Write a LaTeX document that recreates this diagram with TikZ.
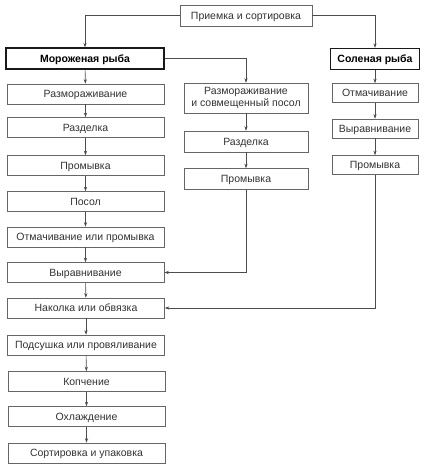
\documentclass[tikz,border=0pt]{standalone}
\usepackage{fontspec}
\setmainfont{Liberation Sans}
\usetikzlibrary{arrows.meta}
\begin{document}
\begin{tikzpicture}[x=1pt,y=-1pt,
  box/.style={draw=black!60, line width=0.6pt, fill=white, inner sep=0pt, text=black!80,
    font=\fontsize{10.5}{12.5}\selectfont, align=center, text height=7.5pt, text depth=0pt},
  lbox/.style={box, minimum width=157pt, minimum height=20pt},
  mbox/.style={box, minimum width=124pt, minimum height=21pt},
  rbox/.style={box, minimum width=86pt, minimum height=19pt},
  headbox/.style={box, draw=black!90, line width=1.3pt, text=black, font=\fontsize{10.5}{12.5}\selectfont\bfseries, minimum height=21pt},
  conn/.style={draw=black!70, line width=0.6pt, -{Stealth[length=4.5pt,width=3.2pt]}}]
\useasboundingbox (0,0) rectangle (427,466);
\fill[white] (0,0) rectangle (427,466);
% top
\node[box, minimum width=132pt, minimum height=21pt] (top) at (246,15.5) {Приемка и сортировка};
\node[headbox, minimum width=158pt] (frozen) at (85,58.5) {Мороженая рыба};
\node[headbox, minimum width=89pt] (salted) at (375,59) {Соленая рыба};
% left column
\node[lbox] (l1) at (85.5,94) {Размораживание};
\node[lbox] (l2) at (85.5,127.5) {Разделка};
\node[lbox] (l3) at (85.5,165.5) {Промывка};
\node[lbox] (l4) at (85.5,201.5) {Посол};
\node[lbox] (l5) at (85.5,237) {Отмачивание или промывка};
\node[lbox] (l6) at (85.5,272.5) {Выравнивание};
\node[lbox] (l7) at (86,308) {Наколка или обвязка};
\node[lbox] (l8) at (86,345) {Подсушка или провяливание};
\node[lbox] (l9) at (86.5,381.5) {Копчение};
\node[lbox] (l10) at (86.5,416.5) {Охлаждение};
\node[lbox] (l11) at (86.5,453) {Сортировка и упаковка};
% middle column
\node[mbox, minimum height=30pt, text height=, text depth=] (m1) at (246,98) {Размораживание\\и совмещенный посол};
\node[mbox] (m2) at (246,141.5) {Разделка};
\node[mbox] (m3) at (246,179) {Промывка};
% right column
\node[rbox] (r1) at (375,93) {Отмачивание};
\node[rbox] (r2) at (375,128.5) {Выравнивание};
\node[rbox] (r3) at (375,165) {Промывка};
% connectors
\draw[conn] (top.west) -| (frozen.north);
\draw[conn] (top.east) -| (salted.north);
\draw[conn] (frozen.east) -| (m1.north);
\draw[conn] (frozen) -- (l1);
\draw[conn] (l1) -- (l2);
\draw[conn] (l2) -- (l3);
\draw[conn] (l3) -- (l4);
\draw[conn] (l4) -- (l5);
\draw[conn] (l5) -- (l6);
\draw[conn] (l6) -- (l7);
\draw[conn] (l7) -- (l8);
\draw[conn] (l8) -- (l9);
\draw[conn] (l9) -- (l10);
\draw[conn] (l10) -- (l11);
\draw[conn] (m1) -- (m2);
\draw[conn] (m2) -- (m3);
\draw[conn] (salted) -- (r1);
\draw[conn] (r1) -- (r2);
\draw[conn] (r2) -- (r3);
\draw[conn] (m3.south) |- (l6.east);
\draw[conn] (r3.south) |- (l7.east);
\end{tikzpicture}
\end{document}
